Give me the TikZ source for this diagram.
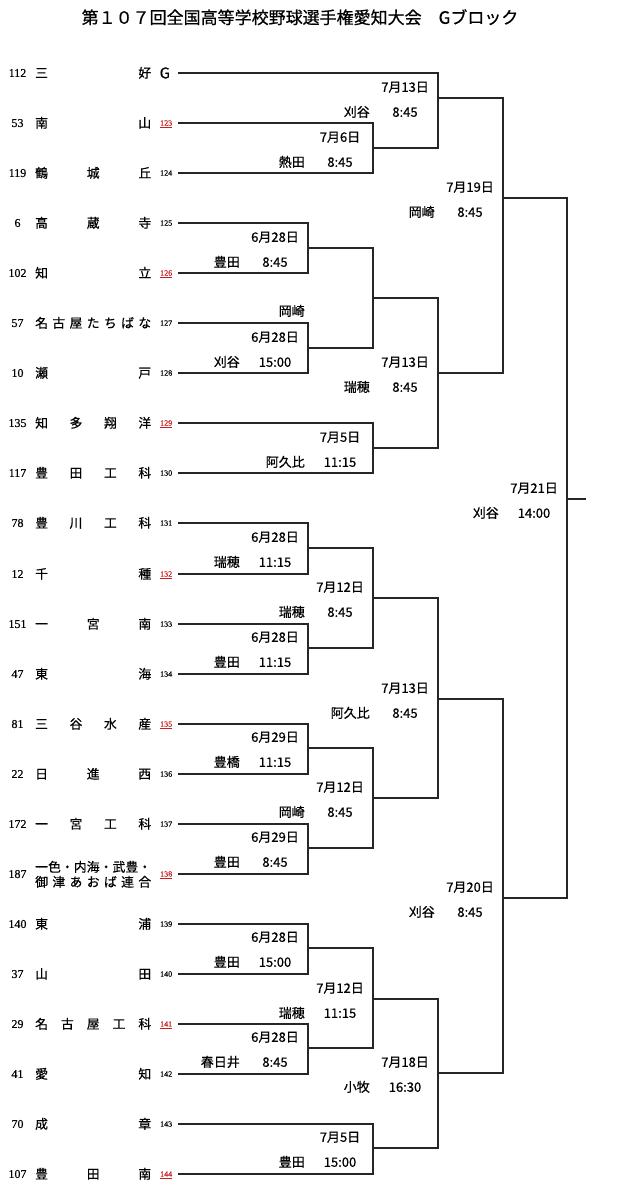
\documentclass[tikz,border=0pt]{standalone}
\usepackage{fontspec}
\setmainfont{Noto Sans CJK JP}[RawFeature={embolden=0.6}]
\newfontfamily\numfont{Liberation Serif}[RawFeature={embolden=0.4}]
\definecolor{linkred}{RGB}{200,30,30}
\tikzset{
  br/.style={line width=1.1pt, draw=black!85},
  lab/.style={font=\fontsize{13}{14}\selectfont, inner sep=0pt, text height=9.6pt, text depth=0pt},
  seedno/.style={font=\numfont\fontsize{12}{12}\selectfont, inner sep=0pt, text height=7.9pt, text depth=0pt},
  tname/.style={font=\fontsize{12.8}{14}\selectfont, inner sep=0pt, text height=9.4pt, text depth=0pt, anchor=west},
  smallno/.style={font=\numfont\fontsize{8}{8}\selectfont, inner sep=0pt, text height=5.3pt, text depth=0pt, anchor=west},
  rednum/.style={smallno, text=linkred},
  titlestyle/.style={font=\fontsize{17}{17}\selectfont, inner sep=0pt, text height=12.6pt, text depth=0pt}
}
\newcommand\mlabels[4]{%
  \node[lab] (#1d) at ([xshift=-33pt,yshift=11pt]#1) {#2};
  \node[lab,anchor=east] (#1v) at ([xshift=-68pt,yshift=-14pt]#1) {#3};
  \node[lab] (#1t) at ([xshift=-33pt,yshift=-14pt]#1) {#4};
}
\newcommand\teamrow[4]{%
  \node[seedno] (s#1) at (17.5,#2) {#3};
  \node[tname] (n#1) at (35,#2) {\makebox[116pt][s]{#4}};
  \coordinate (t#1) at (178,#2);
}
\begin{document}
\begin{tikzpicture}[x=1pt,y=-1pt]
\useasboundingbox (0,0) rectangle (623,1200);
\fill[white] (0,0) rectangle (623,1200);

\node[titlestyle] (title) at (300,17.5) {第１０７回全国高等学校野球選手権愛知大会　Gブロック};

% teams
\teamrow{0}{73}{112}{三\hfill 好}
\teamrow{1}{123}{53}{南\hfill 山}
\teamrow{2}{173}{119}{鶴\hfill 城\hfill 丘}
\teamrow{3}{223}{6}{高\hfill 蔵\hfill 寺}
\teamrow{4}{273}{102}{知\hfill 立}
\teamrow{5}{323}{57}{名\hfill 古\hfill 屋\hfill た\hfill ち\hfill ば\hfill な}
\teamrow{6}{373}{10}{瀬\hfill 戸}
\teamrow{7}{423}{135}{知\hfill 多\hfill 翔\hfill 洋}
\teamrow{8}{473}{117}{豊\hfill 田\hfill 工\hfill 科}
\teamrow{9}{523}{78}{豊\hfill 川\hfill 工\hfill 科}
\teamrow{10}{574}{12}{千\hfill 種}
\teamrow{11}{624}{151}{一\hfill 宮\hfill 南}
\teamrow{12}{674}{47}{東\hfill 海}
\teamrow{13}{724}{81}{三\hfill 谷\hfill 水\hfill 産}
\teamrow{14}{774}{22}{日\hfill 進\hfill 西}
\teamrow{15}{824}{172}{一\hfill 宮\hfill 工\hfill 科}
\node[seedno] (s16) at (17.5,874) {187};
\node[tname] (n16) at (35,867) {\makebox[116pt][s]{一\hfill 色\hfill ・\hfill 内\hfill 海\hfill ・\hfill 武\hfill 豊\hfill ・}};
\node[tname] (n16b) at (35,882) {\makebox[116pt][s]{御\hfill 津\hfill あ\hfill お\hfill ば\hfill 連\hfill 合}};
\coordinate (t16) at (178,874);
\teamrow{17}{924}{140}{東\hfill 浦}
\teamrow{18}{974}{37}{山\hfill 田}
\teamrow{19}{1024}{29}{名\hfill 古\hfill 屋\hfill 工\hfill 科}
\teamrow{20}{1074}{41}{愛\hfill 知}
\teamrow{21}{1124}{70}{成\hfill 章}
\teamrow{22}{1174}{107}{豊\hfill 田\hfill 南}

% small numbers
\node[font=\fontsize{15}{15}\selectfont, inner sep=0pt, text height=10.9pt, text depth=0pt, anchor=west] (k0) at (159.5,73) {G};
\node[rednum] (k1) at (160,123) {\underline{123}};
\node[smallno] (k2) at (160,173) {124};
\node[smallno] (k3) at (160,223) {125};
\node[rednum] (k4) at (160,273) {\underline{126}};
\node[smallno] (k5) at (160,323) {127};
\node[smallno] (k6) at (160,373) {128};
\node[rednum] (k7) at (160,423) {\underline{129}};
\node[smallno] (k8) at (160,473) {130};
\node[smallno] (k9) at (160,523) {131};
\node[rednum] (k10) at (160,574) {\underline{132}};
\node[smallno] (k11) at (160,624) {133};
\node[smallno] (k12) at (160,674) {134};
\node[rednum] (k13) at (160,724) {\underline{135}};
\node[smallno] (k14) at (160,774) {136};
\node[smallno] (k15) at (160,824) {137};
\node[rednum] (k16) at (160,874) {\underline{138}};
\node[smallno] (k17) at (160,924) {139};
\node[smallno] (k18) at (160,974) {140};
\node[rednum] (k19) at (160,1024) {\underline{141}};
\node[smallno] (k20) at (160,1074) {142};
\node[smallno] (k21) at (160,1124) {143};
\node[rednum] (k22) at (160,1174) {\underline{144}};

% match points
\coordinate (mA) at (438,98);
\coordinate (mB) at (373,148);
\coordinate (mC) at (503,198);
\coordinate (mD) at (308,248);
\coordinate (mE) at (308,348);
\coordinate (mF) at (373,298);
\coordinate (mG) at (373,448);
\coordinate (mH) at (438,373);
\coordinate (mI) at (567,499);
\coordinate (mJ) at (308,548);
\coordinate (mK) at (308,648);
\coordinate (mL) at (373,598);
\coordinate (mM) at (308,748);
\coordinate (mN) at (308,848);
\coordinate (mO) at (373,798);
\coordinate (mP) at (438,699);
\coordinate (mQ) at (308,948);
\coordinate (mR) at (308,1048);
\coordinate (mS) at (373,999);
\coordinate (mT) at (373,1148);
\coordinate (mU) at (438,1073);
\coordinate (mW) at (503,898);
\coordinate (out) at (586,499);

% brackets
\draw[br] (t1) -| (mB) |- (t2);
\draw[br] (t0) -| (mA) |- (mB);
\draw[br] (t3) -| (mD) |- (t4);
\draw[br] (t5) -| (mE) |- (t6);
\draw[br] (mD) -| (mF) |- (mE);
\draw[br] (t7) -| (mG) |- (t8);
\draw[br] (mF) -| (mH) |- (mG);
\draw[br] (mA) -| (mC) |- (mH);
\draw[br] (t9) -| (mJ) |- (t10);
\draw[br] (t11) -| (mK) |- (t12);
\draw[br] (mJ) -| (mL) |- (mK);
\draw[br] (t13) -| (mM) |- (t14);
\draw[br] (t15) -| (mN) |- (t16);
\draw[br] (mM) -| (mO) |- (mN);
\draw[br] (mL) -| (mP) |- (mO);
\draw[br] (t17) -| (mQ) |- (t18);
\draw[br] (t19) -| (mR) |- (t20);
\draw[br] (mQ) -| (mS) |- (mR);
\draw[br] (t21) -| (mT) |- (t22);
\draw[br] (mS) -| (mU) |- (mT);
\draw[br] (mP) -| (mW) |- (mU);
\draw[br] (mC) -| (mI) |- (mW);
\draw[br] (mI) -- (out);

% labels
\mlabels{mA}{7月13日}{刈谷}{8:45}
\mlabels{mB}{7月6日}{熱田}{8:45}
\mlabels{mC}{7月19日}{岡崎}{8:45}
\mlabels{mD}{6月28日}{豊田}{8:45}
\mlabels{mE}{6月28日}{刈谷}{15:00}
\node[lab,anchor=east] (mFv) at ([xshift=-68pt,yshift=-13pt]mF) {岡崎};
\mlabels{mG}{7月5日}{阿久比}{11:15}
\mlabels{mH}{7月13日}{瑞穂}{8:45}
\mlabels{mI}{7月21日}{刈谷}{14:00}
\mlabels{mJ}{6月28日}{瑞穂}{11:15}
\mlabels{mK}{6月28日}{豊田}{11:15}
\mlabels{mL}{7月12日}{瑞穂}{8:45}
\mlabels{mM}{6月29日}{豊橋}{11:15}
\mlabels{mN}{6月29日}{豊田}{8:45}
\mlabels{mO}{7月12日}{岡崎}{8:45}
\mlabels{mP}{7月13日}{阿久比}{8:45}
\mlabels{mQ}{6月28日}{豊田}{15:00}
\mlabels{mR}{6月28日}{春日井}{8:45}
\mlabels{mS}{7月12日}{瑞穂}{11:15}
\mlabels{mT}{7月5日}{豊田}{15:00}
\mlabels{mU}{7月18日}{小牧}{16:30}
\mlabels{mW}{7月20日}{刈谷}{8:45}
\end{tikzpicture}
\end{document}
